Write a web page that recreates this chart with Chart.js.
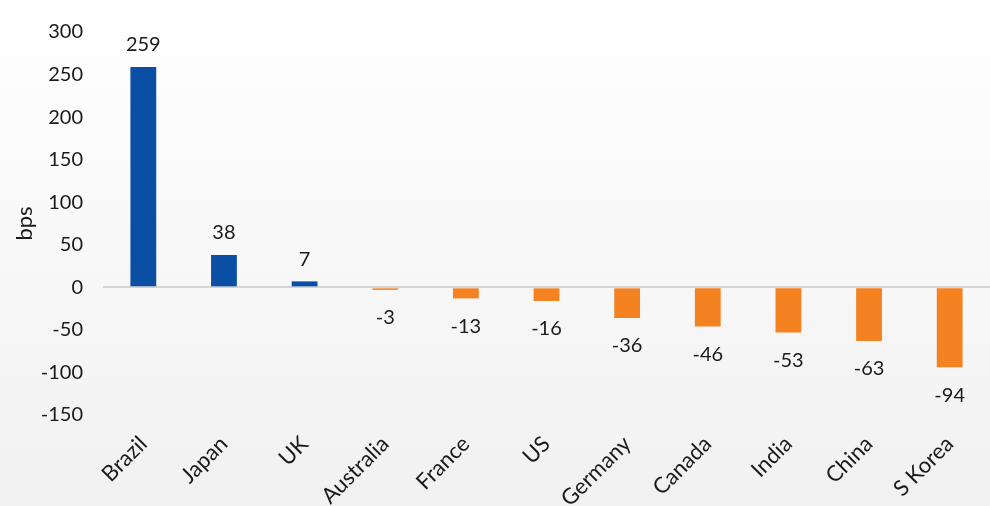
<!DOCTYPE html>
<html>
<head>
<meta charset="utf-8">
<script src="https://cdn.jsdelivr.net/npm/chart.js@4.4.0/dist/chart.umd.min.js"></script>
<style>
  html, body { margin: 0; padding: 0; }
  body {
    width: 990px; height: 506px; overflow: hidden;
    background: linear-gradient(to bottom, #ffffff 0%, #f1f1f1 100%);
  }
  #wrap { position: relative; width: 990px; height: 506px; }
</style>
</head>
<body>
<div id="wrap"><canvas id="grafico"></canvas></div>
<script>
const paises = ["Brazil", "Japan", "UK", "Australia", "France", "US",
  "Germany", "Canada", "India", "China", "S Korea"];
const variacao = [259, 38, 7, -3, -13, -16, -36, -46, -53, -63, -94];
const ticksY = [-150, -100, -50, 0, 50, 100, 150, 200, 250, 300];

const azul = "#0a4fa3";
const laranja = "#f58220";
const fonte = "Lato, 'DejaVu Sans', sans-serif";

// rótulos de valor acima/abaixo das barras
const rotulos = {
  id: "rotulos",
  afterDatasetsDraw(chart) {
    const ctx = chart.ctx;
    const meta = chart.getDatasetMeta(0);
    ctx.save();
    ctx.font = "20px " + fonte;
    ctx.fillStyle = "#1a1a1a";
    ctx.textAlign = "center";
    ctx.textBaseline = "middle";
    meta.data.forEach((barra, i) => {
      const v = variacao[i];
      const y = v >= 0 ? barra.y - 22 : barra.y + 28;
      ctx.fillText(String(v), barra.x, y);
    });
    ctx.restore();
  }
};

new Chart(document.getElementById("grafico"), {
  type: "bar",
  data: {
    labels: paises,
    datasets: [{
      data: variacao,
      backgroundColor: variacao.map(v => v >= 0 ? azul : laranja),
      borderWidth: 0,
      barPercentage: 0.32,
      categoryPercentage: 1
    }]
  },
  options: {
    responsive: true,
    maintainAspectRatio: false,
    animation: false,
    layout: { padding: { top: 14, left: 12, right: 0, bottom: 0 } },
    plugins: { legend: { display: false }, tooltip: { enabled: false } },
    scales: {
      x: {
        grid: { display: false },
        border: { display: false },
        afterFit: axis => {
          axis.height = 91;
          axis.paddingLeft = 0;
          axis.paddingRight = 0;
        },
        ticks: {
          color: "#1a1a1a",
          font: { size: 22, family: fonte },
          minRotation: 45, maxRotation: 45,
          padding: 8
        }
      },
      y: {
        min: -150, max: 300,
        afterBuildTicks: axis => { axis.ticks = ticksY.map(v => ({ value: v })); },
        afterFit: axis => { axis.width = 91; },
        border: { display: false },
        grid: {
          drawTicks: false,
          color: c => c.tick && c.tick.value === 0 ? "#d4d4d4" : "transparent",
          lineWidth: 2
        },
        ticks: {
          color: "#1a1a1a",
          font: { size: 20, family: fonte },
          padding: 20
        },
        title: {
          display: true, text: "bps", color: "#1a1a1a",
          font: { size: 22, family: fonte }, padding: { top: 0, bottom: 2 }
        }
      }
    }
  },
  plugins: [rotulos]
});
</script>
</body>
</html>
